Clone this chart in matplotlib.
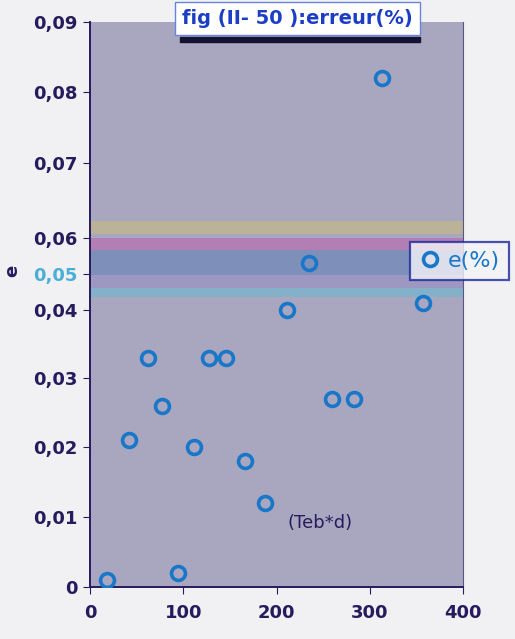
import numpy as np
import matplotlib.pyplot as plt
import matplotlib.ticker as mticker
from matplotlib.patches import Rectangle

# values
teb_d = [18, 42, 62, 77, 94, 111, 128, 146, 166, 188, 211, 235, 259, 283, 313, 357]
err = [0.001, 0.021, 0.033, 0.026, 0.002, 0.020, 0.033, 0.033, 0.018, 0.012,
       0.040, 0.053, 0.027, 0.027, 0.082, 0.042]

# the scan squeezed the 0.04-0.06 strip: piecewise scale through these ticks
scale_vals = [0, 0.01, 0.02, 0.03, 0.04, 0.06, 0.07, 0.08, 0.09]
scale_pos = [0, 70, 140, 209, 277, 349, 424, 495, 565]

# coloured smear of the scan across that strip
band_lo = [0.0435, 0.0461, 0.0497, 0.0567, 0.0605]
band_hi = [0.0461, 0.0497, 0.0567, 0.0600, 0.0622]
band_col = ['#58c0d6', '#9088c4', '#4a74b6', '#c04ea6', '#cfc46a']


def fwd(v):
    return np.interp(v, scale_vals, scale_pos)


def inv(p):
    return np.interp(p, scale_pos, scale_vals)


navy = '#271b5e'
dot = '#1877c8'

fig = plt.figure(figsize=(5.15, 6.39), dpi=100)
fig.patch.set_facecolor('#f1f1f3')
ax = fig.add_axes([0.1748, 0.0814, 0.7249, 0.8842])
ax.set_facecolor('#a9a6bf')
ax.set_yscale('function', functions=(fwd, inv))

for lo, hi, c in zip(band_lo, band_hi, band_col):
    ax.axhspan(lo, hi, color=c, alpha=0.45, lw=0)

ax.plot(teb_d, err, 'o', ms=10, mfc='none', mec=dot, mew=2.6, label='e(%)', zorder=3)

ax.set_xlim(0, 400)
ax.set_ylim(0, 0.09)
ax.set_xticks([0, 100, 200, 300, 400])
ax.set_yticks([i / 100 for i in range(10)])
ax.yaxis.set_major_formatter(mticker.FuncFormatter(
    lambda v, _: '0' if v == 0 else f'{v:.2f}'.replace('.', ',')))

ax.spines['top'].set_visible(False)
ax.spines['right'].set_color('#5a5688')
ax.spines['left'].set_color(navy)
ax.spines['bottom'].set_color(navy)
ax.spines['left'].set_linewidth(1.4)
ax.spines['bottom'].set_linewidth(1.4)
ax.tick_params(colors=navy, labelsize=13, length=5, direction='out', pad=4)
ax.tick_params(axis='x', pad=7)
for lab in ax.get_xticklabels() + ax.get_yticklabels():
    lab.set_fontweight('bold')
ax.get_yticklabels()[5].set_color('#4aaed8')

ax.set_ylabel('e', fontsize=13, color=navy, fontweight='bold')
ax.yaxis.set_label_coords(-0.185, 0.56)
ax.text(246, 0.0091, '(Teb*d)', fontsize=13, color=navy, ha='center', va='center')

# title box on top, with its dark drop shadow
fig.patches.append(Rectangle((0.35, 0.934), 0.465, 0.008, transform=fig.transFigure,
                             color='#161235', zorder=1))
fig.text(0.578, 0.971, 'fig (II- 50 ):erreur(%)', ha='center', va='center',
         fontsize=14, fontweight='bold', color='#1c3ec4', zorder=2,
         bbox=dict(boxstyle='square,pad=0.38', fc='white', ec='#6a84da', lw=1.0))

leg = ax.legend(loc='upper left', bbox_to_anchor=(0.858, 0.611), fontsize=16,
                frameon=True, fancybox=False, handletextpad=0.3, handlelength=1.0,
                borderpad=0.4, borderaxespad=0, labelcolor=dot)
leg.get_frame().set_edgecolor('#1a2a9a')
leg.get_frame().set_linewidth(1.6)
leg.get_frame().set_facecolor('#f4f4f8')
leg.set_zorder(5)

plt.savefig('out.png', dpi=100, facecolor=fig.get_facecolor())
